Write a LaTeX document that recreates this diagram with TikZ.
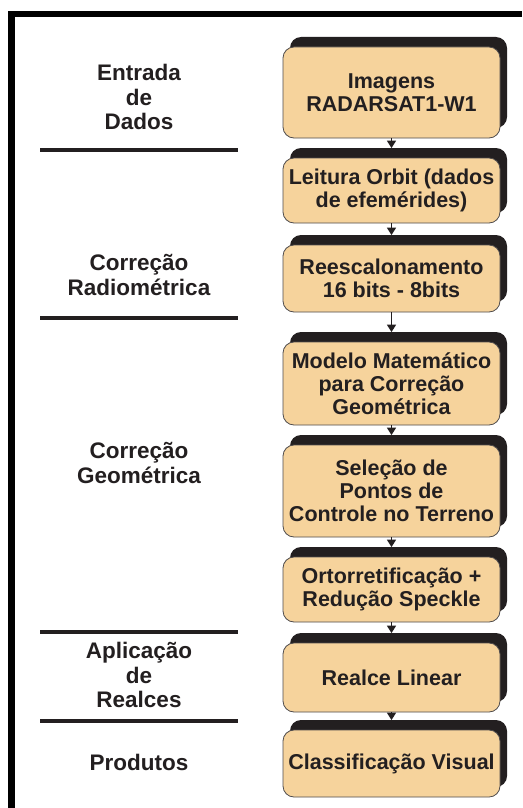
\documentclass[tikz,border=0pt]{standalone}
\usepackage{fontspec}
\setmainfont{Liberation Sans}
\usetikzlibrary{shadows,arrows.meta}
\definecolor{boxfill}{HTML}{F6D39C}
\definecolor{ink}{HTML}{231F20}
\tikzset{
  procbox/.style={draw=ink!80, line width=0.8pt, fill=boxfill, rounded corners=11pt,
    minimum width=217pt, inner xsep=1pt, inner ysep=0pt, align=center,
    font=\bfseries\fontsize{21.5}{23}\selectfont, text=ink,
    general shadow={fill=ink, shadow xshift=7pt, shadow yshift=10pt}},
  stagelbl/.style={align=center, font=\bfseries\fontsize{22.5}{24.5}\selectfont, text=ink, inner sep=0pt},
  flow/.style={line width=1.5pt, draw=ink, -{Triangle[width=9pt,length=7.5pt]}, shorten >=9.5pt},
  divider/.style={line width=4.5pt, draw=ink},
  frame/.style={line width=6.5pt, draw=black}
}
\begin{document}
\begin{tikzpicture}[x=1pt,y=-1pt]
\useasboundingbox (0,0) rectangle (522,808);
\fill[white] (0,0) rectangle (522,808);
% frame
\coordinate (f1) at (11.5,808);
\coordinate (f2) at (11.5,14);
\coordinate (f3) at (522,14);
\draw[frame] (f1) -- (f2) -- (f3);
% boxes
\node[procbox, minimum height=91pt] (b1) at (391.5,92.5) {Imagens\\RADARSAT1-W1};
\node[procbox, minimum height=65pt] (b2) at (391.5,190.5) {Leitura Orbit (dados\\de efemérides)};
\node[procbox, minimum height=67pt] (b3) at (391.5,278.5) {Reescalonamento\\16 bits - 8bits};
\node[procbox, minimum height=83pt] (b4) at (391.5,383.5) {Modelo Matemático\\para Correção\\Geométrica};
\node[procbox, minimum height=92pt] (b5) at (391.5,491) {Seleção de\\Pontos de\\Controle no Terreno};
\node[procbox, minimum height=65pt] (b6) at (391.5,589.5) {Ortorretificação +\\Redução Speckle};
\node[procbox, minimum height=69pt] (b7) at (391.5,677.5) {Realce Linear};
\node[procbox, minimum height=67pt] (b8) at (391.5,763.5) {Classificação Visual};
% arrows
\draw[flow] (b1) -- (b2);
\draw[flow] (b2) -- (b3);
\draw[flow] (b3) -- (b4);
\draw[flow] (b4) -- (b5);
\draw[flow] (b5) -- (b6);
\draw[flow] (b6) -- (b7);
\draw[flow] (b7) -- (b8);
% stage labels
\node[stagelbl] (s1) at (139,97) {Entrada\\de\\Dados};
\node[stagelbl] (s2) at (139,275) {Correção\\Radiométrica};
\node[stagelbl] (s3) at (139,463) {Correção\\Geométrica};
\node[stagelbl] (s4) at (139,675) {Aplicação\\de\\Realces};
\node[stagelbl] (s5) at (139,762) {Produtos};
% dividers
\coordinate (d1a) at (40,150); \coordinate (d1b) at (238,150);
\coordinate (d2a) at (40,318); \coordinate (d2b) at (238,318);
\coordinate (d3a) at (40,632); \coordinate (d3b) at (238,632);
\coordinate (d4a) at (40,721); \coordinate (d4b) at (238,721);
\draw[divider] (d1a) -- (d1b);
\draw[divider] (d2a) -- (d2b);
\draw[divider] (d3a) -- (d3b);
\draw[divider] (d4a) -- (d4b);
\end{tikzpicture}
\end{document}
